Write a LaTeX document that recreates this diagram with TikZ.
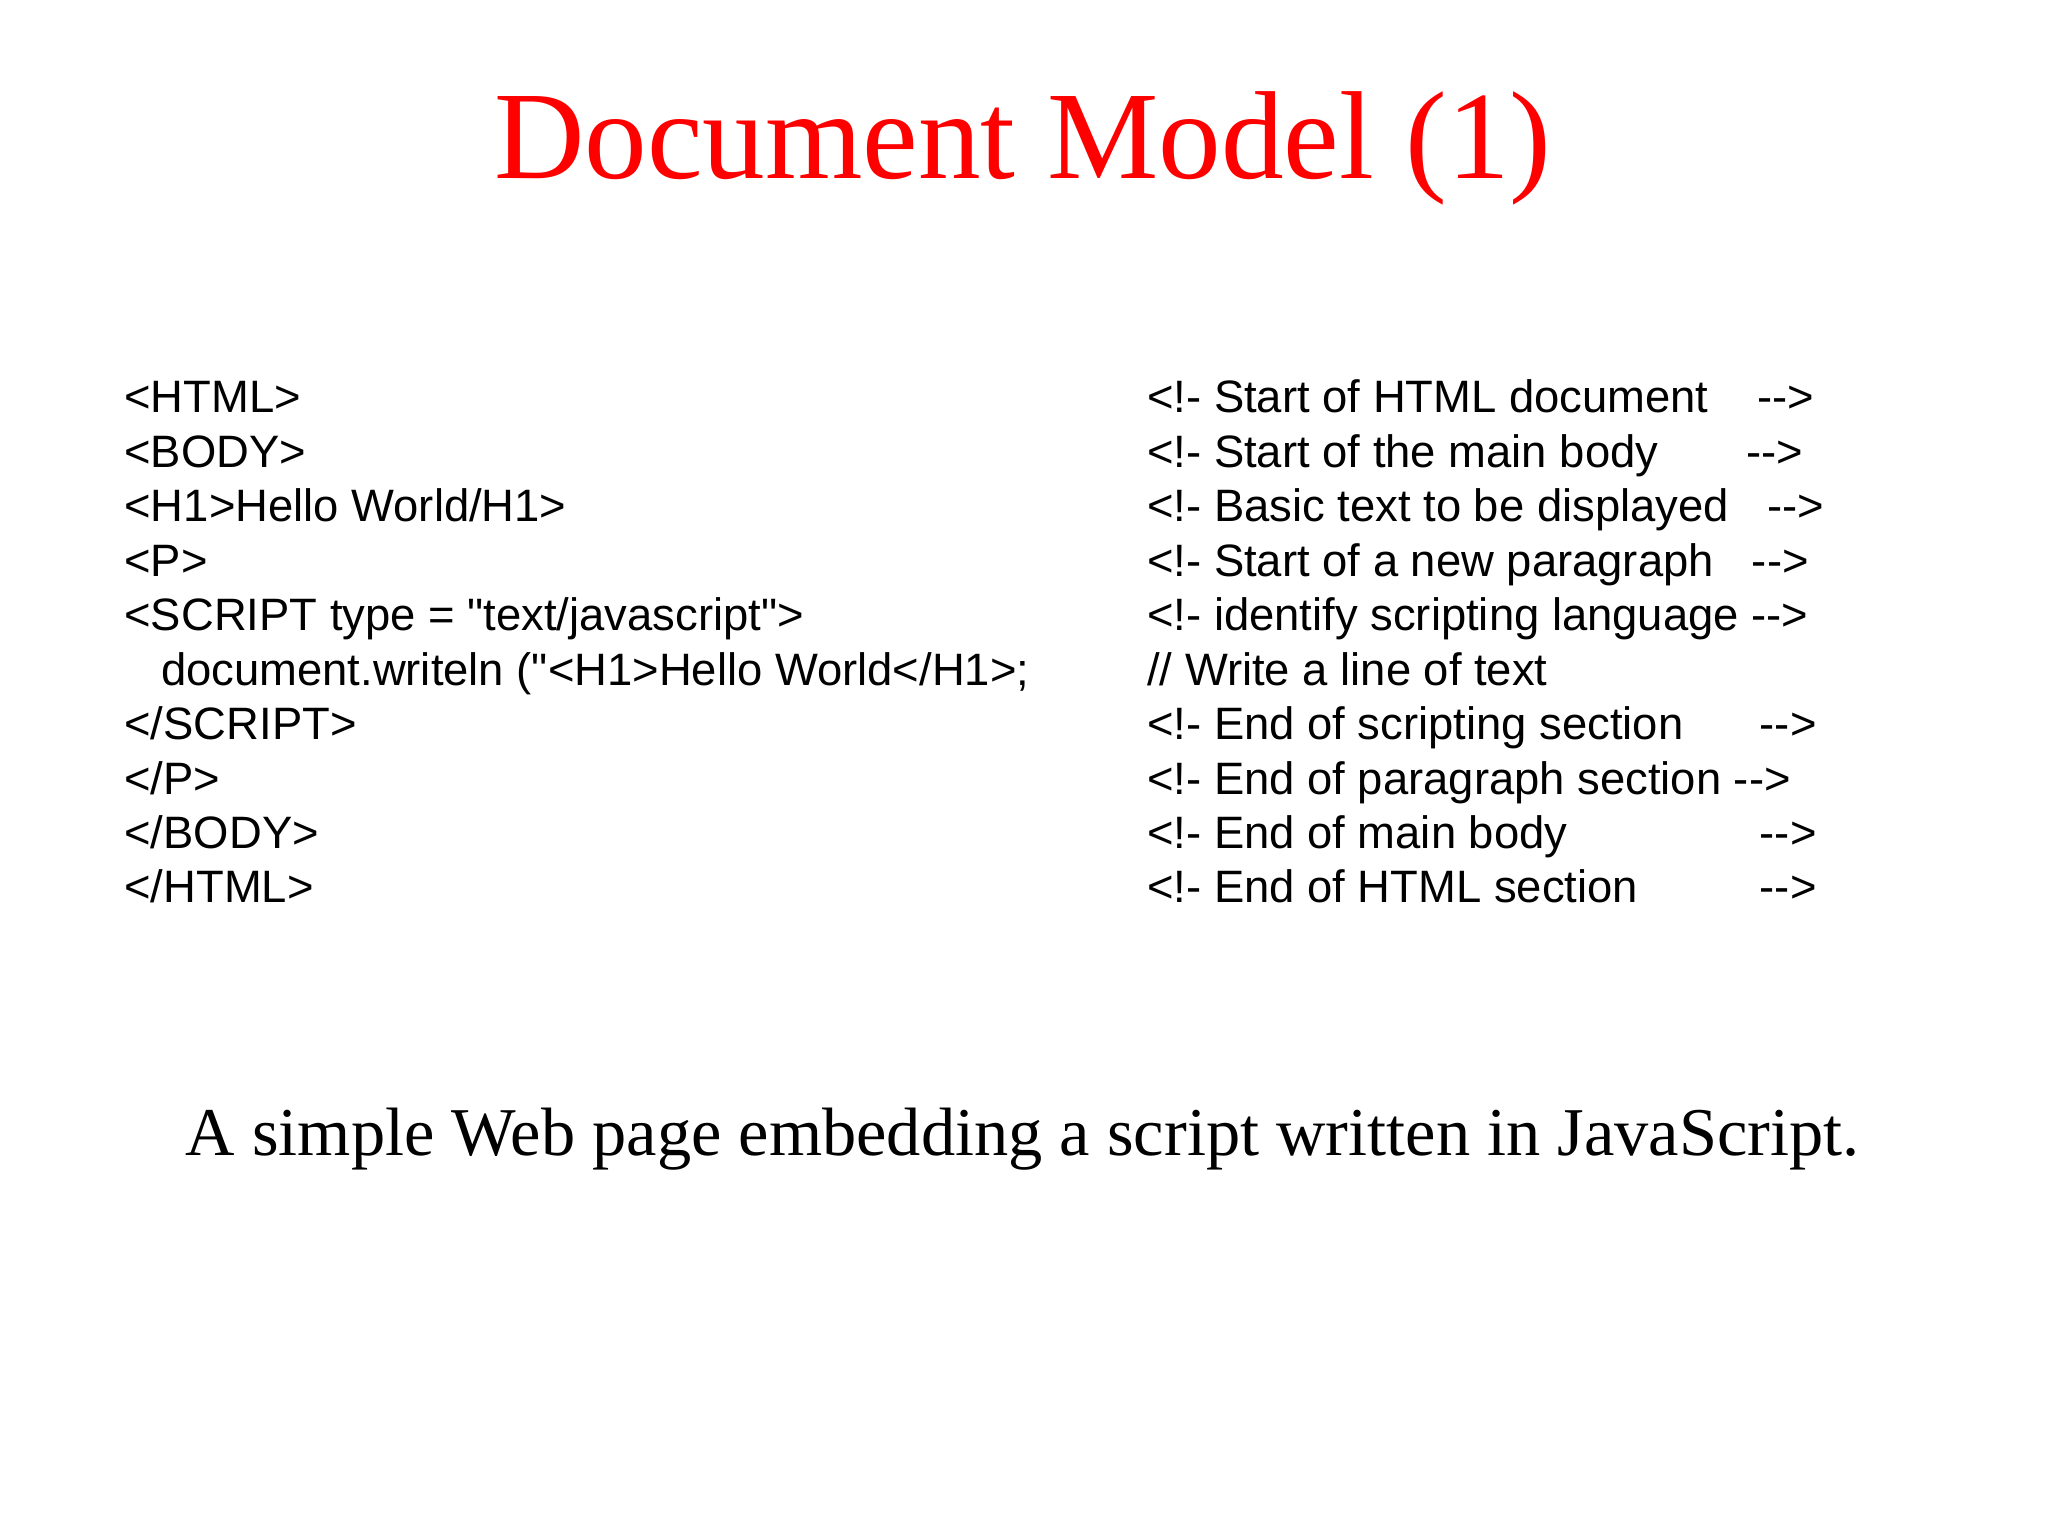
\documentclass[tikz,border=0pt]{standalone}
\usepackage{fontspec}
\setmainfont{Liberation Serif}
\newfontfamily\arial{Liberation Sans}
\begin{document}
\begin{tikzpicture}[x=0.653pt,y=-0.653pt,
  code/.style={anchor=base west,inner sep=0pt,font=\arial\fontsize{22.7}{27}\selectfont}]
\useasboundingbox (0,0) rectangle (1568,1176);
\node[anchor=base,inner sep=0pt,text=red,font=\fontsize{62.6}{66}\selectfont] (title) at (783,137) {Document Model (1)};
\node[code] (l0) at (95,316.0) {<HTML>};
\node[code] (l1) at (95,357.7) {<BODY>};
\node[code] (l2) at (95,399.4) {<H1>Hello World/H1>};
\node[code] (l3) at (95,441.1) {<P>};
\node[code] (l4) at (95,482.8) {<SCRIPT type = "text/javascript">};
\node[code] (l5) at (123,524.5) {document.writeln ("<H1>Hello World</H1>;};
\node[code] (l6) at (95,566.2) {</SCRIPT>};
\node[code] (l7) at (95,607.9) {</P>};
\node[code] (l8) at (95,649.6) {</BODY>};
\node[code] (l9) at (95,691.3) {</HTML>};
\node[code] (r0) at (878,316.0) {<!- Start of HTML document};
\node[code] (r1) at (878,357.7) {<!- Start of the main body};
\node[code] (r2) at (878,399.4) {<!- Basic text to be displayed};
\node[code] (r3) at (878,441.1) {<!- Start of a new paragraph};
\node[code] (r4) at (878,482.8) {<!- identify scripting language -->};
\node[code] (r5) at (878,524.5) {// Write a line of text};
\node[code] (r6) at (878,566.2) {<!- End of scripting section};
\node[code] (r7) at (878,607.9) {<!- End of paragraph section -->};
\node[code] (r8) at (878,649.6) {<!- End of main body};
\node[code] (r9) at (878,691.3) {<!- End of HTML section};
\node[code] (a0) at (1345,316.0) {-->};
\node[code] (a1) at (1337,357.7) {-->};
\node[code] (a2) at (1353,399.4) {-->};
\node[code] (a3) at (1341,441.1) {-->};
\node[code] (a6) at (1347,566.2) {-->};
\node[code] (a8) at (1347,649.6) {-->};
\node[code] (a9) at (1347,691.3) {-->};
\node[anchor=base,inner sep=0pt,font=\fontsize{34.2}{38}\selectfont] (cap) at (783,885) {A simple Web page embedding a script written in JavaScript.};
\end{tikzpicture}
\end{document}
